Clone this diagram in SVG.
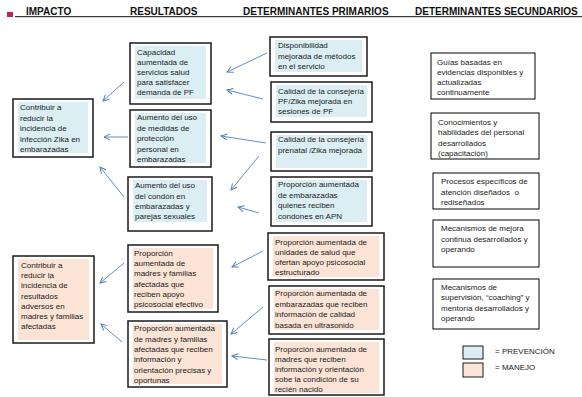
<svg xmlns="http://www.w3.org/2000/svg" width="582" height="397" viewBox="0 0 582 397">
  <defs>
    <marker id="arrow" markerWidth="8" markerHeight="8" refX="7" refY="4" orient="auto" markerUnits="userSpaceOnUse">
      <path d="M1,1 L7,4 L1,7" fill="none" stroke="#4f81bd" stroke-width="1"/>
    </marker>
  </defs>
  <style>
    text { font-family: "Liberation Sans", Arial, sans-serif; font-size: 8px; fill: #1a1a1a; }
    .hdr { font-size: 10px; font-weight: bold; fill: #111; }
    .leg { font-size: 8px; }
    .box { fill: #fff; stroke: #1a1a1a; stroke-width: 1.5; }
    .box2 { fill: #fff; stroke: #1a1a1a; stroke-width: 1.1; }
    .prev { fill: #daeef3; }
    .man { fill: #fbe4d5; }
    .conn line { stroke: #4f81bd; stroke-width: 0.9; marker-end: url(#arrow); }
  </style>
  <rect width="582" height="397" fill="#fff"/>

  <!-- column headings -->
  <g id="headings">
    <rect x="7" y="12" width="6" height="5" fill="#c8204f"/>
    <text class="hdr" x="26" y="15">IMPACTO</text>
    <text class="hdr" x="130" y="15">RESULTADOS</text>
    <text class="hdr" x="243" y="15">DETERMINANTES PRIMARIOS</text>
    <text class="hdr" x="415" y="15">DETERMINANTES SECUNDARIOS</text>
    <line x1="15" y1="16.7" x2="582" y2="16.7" stroke="#111" stroke-width="1"/>
  </g>

  <!-- impact -->
  <g id="impacto-zika">
    <rect class="box" x="13" y="99" width="80" height="58"/>
    <rect class="prev" x="18" y="102" width="70" height="51"/>
    <text x="20" y="110">Contribuir a</text>
    <text x="20" y="120.5">reducir la</text>
    <text x="20" y="131">incidencia de</text>
    <text x="20" y="141.5">infección Zika en</text>
    <text x="20" y="152">embarazadas</text>
  </g>
  <g id="impacto-resultados">
    <rect class="box" x="13" y="256" width="81" height="87"/>
    <rect class="man" x="18" y="259" width="71" height="81"/>
    <text x="21" y="268">Contribuir a</text>
    <text x="21" y="278">reducir la</text>
    <text x="21" y="288">incidencia de</text>
    <text x="21" y="298.5">resultados</text>
    <text x="21" y="309">adversos en</text>
    <text x="21" y="319">madres y familias</text>
    <text x="21" y="329">afectadas</text>
  </g>

  <!-- results -->
  <g id="res-capacidad">
    <rect class="box" x="130" y="43" width="81" height="61"/>
    <rect class="prev" x="135" y="46" width="71" height="53"/>
    <text x="137" y="55">Capacidad</text>
    <text x="137" y="65">aumentada de</text>
    <text x="137" y="75">servicios salud</text>
    <text x="137" y="85">para satisfacer</text>
    <text x="137" y="95">demanda de PF</text>
  </g>
  <g id="res-proteccion">
    <rect class="box" x="130" y="110" width="81" height="57"/>
    <rect class="prev" x="135" y="113" width="71" height="50"/>
    <text x="137" y="120">Aumento del uso</text>
    <text x="137" y="131">de medidas de</text>
    <text x="137" y="141">protección</text>
    <text x="137" y="151.5">personal en</text>
    <text x="137" y="162">embarazadas</text>
  </g>
  <g id="res-condon">
    <rect class="box" x="128" y="177" width="84" height="54"/>
    <rect class="prev" x="133" y="180" width="74" height="42"/>
    <text x="135" y="188">Aumento del uso</text>
    <text x="135" y="198.5">del condón en</text>
    <text x="135" y="209">embarazadas y</text>
    <text x="135" y="219">parejas sexuales</text>
  </g>
  <g id="res-apoyo">
    <rect class="box" x="128" y="245" width="90" height="67"/>
    <rect class="man" x="133" y="248" width="80" height="61"/>
    <text x="134" y="256">Proporción</text>
    <text x="134" y="266">aumentada de</text>
    <text x="134" y="276">madres y familias</text>
    <text x="134" y="286.5">afectadas que</text>
    <text x="134" y="297">reciben apoyo</text>
    <text x="134" y="307">psicosocial efectivo</text>
  </g>
  <g id="res-informacion">
    <rect class="box" x="128" y="321" width="99" height="66"/>
    <rect class="man" x="133" y="324" width="89" height="60"/>
    <text x="134" y="331">Proporción aumentada</text>
    <text x="134" y="342">de madres y familias</text>
    <text x="134" y="352">afectadas que reciben</text>
    <text x="134" y="362">información y</text>
    <text x="134" y="372.5">orientación precisas y</text>
    <text x="134" y="383">oportunas</text>
  </g>

  <!-- primary determinants -->
  <g id="pri-disponibilidad">
    <rect class="box" x="270" y="37" width="97" height="39"/>
    <rect class="prev" x="275" y="40" width="87" height="32"/>
    <text x="278" y="48">Disponibilidad</text>
    <text x="278" y="58.5">mejorada de métodos</text>
    <text x="278" y="69">en el servicio</text>
  </g>
  <g id="pri-consejeria-pf">
    <rect class="box" x="271" y="82" width="101" height="40"/>
    <rect class="prev" x="276" y="85" width="91" height="32"/>
    <text x="278" y="94">Calidad de la consejería</text>
    <text x="278" y="104">PF/Zika mejorada en</text>
    <text x="278" y="114">sesiones de PF</text>
  </g>
  <g id="pri-consejeria-prenatal">
    <rect class="box" x="271" y="132" width="101" height="39"/>
    <rect class="prev" x="276" y="135" width="91" height="33"/>
    <text x="278" y="142">Calidad de la consejería</text>
    <text x="278" y="153">prenatal /Zika mejorada</text>
  </g>
  <g id="pri-condones">
    <rect class="box" x="271" y="177" width="101" height="49"/>
    <rect class="prev" x="276" y="180" width="91" height="42"/>
    <text x="278" y="187">Proporción aumentada</text>
    <text x="278" y="198">de embarazadas</text>
    <text x="278" y="208">quienes reciben</text>
    <text x="278" y="219">condones en APN</text>
  </g>
  <g id="pri-unidades">
    <rect class="box" x="268" y="233" width="116" height="47"/>
    <rect class="man" x="273" y="236" width="106" height="41"/>
    <text x="275" y="245">Proporción aumentada de</text>
    <text x="275" y="255">unidades de salud que</text>
    <text x="275" y="265">ofertan apoyo psicosocial</text>
    <text x="275" y="275">estructurado</text>
  </g>
  <g id="pri-ultrasonido">
    <rect class="box" x="269" y="286" width="115" height="48"/>
    <rect class="man" x="274" y="289" width="105" height="41"/>
    <text x="275" y="296">Proporción aumentada de</text>
    <text x="275" y="307">embarazadas que reciben</text>
    <text x="275" y="317">información de calidad</text>
    <text x="275" y="328">basada en ultrasonido</text>
  </g>
  <g id="pri-recien-nacido">
    <rect class="box" x="269" y="339" width="115" height="56"/>
    <rect class="man" x="274" y="342" width="105" height="51"/>
    <text x="275" y="352">Proporción aumentada de</text>
    <text x="275" y="362">madres que reciben</text>
    <text x="275" y="372">información y orientación</text>
    <text x="275" y="382">sobe la condición de su</text>
    <text x="275" y="392">recién nacido</text>
  </g>

  <!-- secondary determinants -->
  <g id="sec-guias">
    <rect class="box2" x="431" y="53" width="104" height="46"/>
    <text x="437" y="65">Guías basadas en</text>
    <text x="437" y="75">evidencias disponibles y</text>
    <text x="437" y="85">actualizadas</text>
    <text x="437" y="95">continuamente</text>
  </g>
  <g id="sec-conocimientos">
    <rect class="box2" x="431" y="113" width="108" height="46"/>
    <text x="438" y="125">Conocimientos y</text>
    <text x="438" y="135">habilidades del personal</text>
    <text x="438" y="145.5">desarrollados</text>
    <text x="438" y="156">(capacitación)</text>
  </g>
  <g id="sec-procesos">
    <rect class="box2" x="433" y="173" width="106" height="36"/>
    <text x="441" y="184">Procesos específicos de</text>
    <text x="441" y="195" style="white-space: pre">atención diseñados  o</text>
    <text x="441" y="205">rediseñados</text>
  </g>
  <g id="sec-mejora">
    <rect class="box2" x="433" y="220" width="106" height="47"/>
    <text x="441" y="231">Mecanismos de mejora</text>
    <text x="441" y="241.5">continua desarrollados y</text>
    <text x="441" y="252">operando</text>
  </g>
  <g id="sec-supervision">
    <rect class="box2" x="433" y="279" width="106" height="50"/>
    <text x="441" y="290">Mecanismos de</text>
    <text x="441" y="300">supervisión, “coaching” y</text>
    <text x="441" y="310.5">mentoría desarrollados y</text>
    <text x="441" y="321">operando</text>
  </g>

  <!-- legend -->
  <g id="legend">
    <rect x="463" y="346" width="20" height="13" fill="#daeef3" stroke="#1a1a1a" stroke-width="1"/>
    <rect x="463" y="363" width="20" height="14" fill="#fbe4d5" stroke="#1a1a1a" stroke-width="1"/>
    <text class="leg" x="495" y="354">= PREVENCIÓN</text>
    <text class="leg" x="495" y="370">= MANEJO</text>
  </g>

  <!-- connectors -->
  <g id="connectors" class="conn">
    <line x1="267" y1="53" x2="227" y2="72"/>
    <line x1="263" y1="99" x2="227" y2="90"/>
    <line x1="124" y1="82" x2="103" y2="101"/>
    <line x1="128" y1="137" x2="104" y2="137"/>
    <line x1="266" y1="143" x2="221" y2="136"/>
    <line x1="259" y1="156" x2="231" y2="190"/>
    <line x1="259" y1="213" x2="238" y2="207"/>
    <line x1="124" y1="197" x2="100" y2="167"/>
    <line x1="263" y1="251" x2="232" y2="267"/>
    <line x1="124" y1="263" x2="100" y2="283"/>
    <line x1="263" y1="307" x2="231" y2="334"/>
    <line x1="267" y1="360" x2="232" y2="356"/>
    <line x1="122" y1="342" x2="101" y2="324"/>
  </g>
</svg>
